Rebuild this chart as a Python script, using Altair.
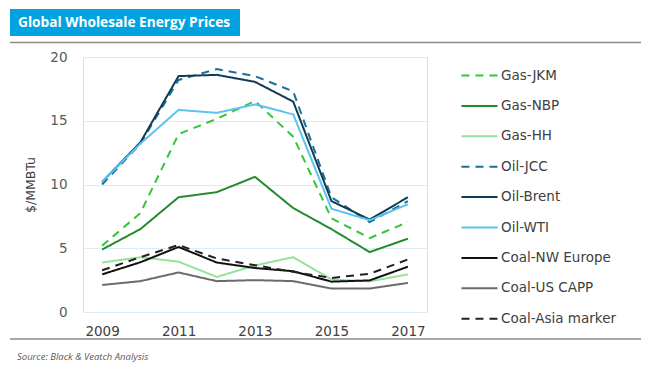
import altair as alt
import pandas as pd

years = [2009, 2010, 2011, 2012, 2013, 2014, 2015, 2016, 2017]

series_names = ["Gas-JKM", "Gas-NBP", "Gas-HH", "Oil-JCC", "Oil-Brent", "Oil-WTI",
                "Coal-NW Europe", "Coal-US CAPP", "Coal-Asia marker"]

gas_jkm = [5.2, 7.75, 13.95, 15.15, 16.55, 13.75, 7.35, 5.8, 7.05]
gas_nbp = [4.9, 6.5, 9.0, 9.4, 10.6, 8.15, 6.5, 4.7, 5.75]
gas_hh = [3.88, 4.3, 3.95, 2.75, 3.65, 4.3, 2.55, 2.4, 2.95]
oil_jcc = [10.0, 13.2, 18.2, 19.05, 18.5, 17.3, 9.0, 7.05, 8.7]
oil_brent = [10.2, 13.3, 18.5, 18.6, 18.05, 16.5, 8.7, 7.25, 9.0]
oil_wti = [10.2, 13.2, 15.85, 15.62, 16.28, 15.5, 8.1, 7.2, 8.45]
coal_nwe = [2.95, 3.9, 5.1, 3.88, 3.45, 3.2, 2.38, 2.48, 3.55]
coal_capp = [2.12, 2.42, 3.1, 2.42, 2.5, 2.42, 1.84, 1.84, 2.28]
coal_asia = [3.27, 4.3, 5.25, 4.2, 3.67, 3.15, 2.67, 3.0, 4.12]

all_values = [gas_jkm, gas_nbp, gas_hh, oil_jcc, oil_brent, oil_wti,
              coal_nwe, coal_capp, coal_asia]

colors = ["#33C63A", "#248A2E", "#93E49A", "#1C6F9A", "#0E3B55", "#5CC3EE",
          "#111111", "#6B6B6B", "#222222"]
dashes = [[8, 6], [1, 0], [1, 0], [8, 6], [1, 0], [1, 0], [1, 0], [1, 0], [8, 6]]

rows = []
for name, vals in zip(series_names, all_values):
    for yr, v in zip(years, vals):
        rows.append({"year": yr, "value": v, "series": name})
df = pd.DataFrame(rows)

FONT = "Open Sans"
WIDE = "DejaVu Sans"

legend_kw = dict(title=None, orient="none", legendX=377, legendY=-1,
                 symbolType="stroke", symbolSize=1300, symbolStrokeWidth=2,
                 rowPadding=4.4, labelFontSize=13.5, labelColor="#404040",
                 labelFont=WIDE, labelOffset=2)

lines = alt.Chart(df).mark_line(strokeWidth=2).encode(
    x=alt.X("year:Q",
            scale=alt.Scale(domain=[2008.5, 2017.5], nice=False, zero=False),
            axis=alt.Axis(values=[2009, 2011, 2013, 2015, 2017], format="d",
                          grid=False, ticks=False, domain=False,
                          labelFontSize=13.5, labelColor="#404040", labelPadding=12,
                          labelFont=WIDE, title=None)),
    y=alt.Y("value:Q",
            scale=alt.Scale(domain=[0, 20], nice=False),
            axis=alt.Axis(values=[0, 5, 10, 15, 20], grid=True, gridColor="#DCEBF7",
                          ticks=False, domain=False, labelFontSize=13.5,
                          labelColor="#595959", labelPadding=16, labelFont=WIDE,
                          title="$/MMBTu", titleFontSize=12.5, titleFontWeight="normal",
                          titleColor="#404040", titleFont=WIDE, titlePadding=12)),
    color=alt.Color("series:N", sort=series_names,
                    scale=alt.Scale(domain=series_names, range=colors),
                    legend=alt.Legend(**legend_kw)),
    strokeDash=alt.StrokeDash("series:N", sort=series_names,
                              scale=alt.Scale(domain=series_names, range=dashes),
                              legend=alt.Legend(**legend_kw)),
)

one = "datum.year == 2009 && datum.series == 'Gas-JKM'"

title_box = alt.Chart(df).mark_rect(color="#00A3E0").encode(
    x=alt.value(-73), x2=alt.value(157), y=alt.value(-48), y2=alt.value(-21)
).transform_filter(one)

title_text = alt.Chart(df).mark_text(
    text="Global Wholesale Energy Prices", color="white", fontWeight="bold",
    fontSize=13.7, font=FONT, align="left", baseline="middle"
).encode(x=alt.value(-65), y=alt.value(-34.5)).transform_filter(one)

top_rule = alt.Chart(df).mark_rule(color="#8C8C8C", strokeWidth=1.5).encode(
    x=alt.value(-73), x2=alt.value(558), y=alt.value(-14.5)
).transform_filter(one)

bottom_rule = alt.Chart(df).mark_rule(color="#8C8C8C", strokeWidth=1.5).encode(
    x=alt.value(-73), x2=alt.value(558), y=alt.value(282)
).transform_filter(one)

source_text = alt.Chart(df).mark_text(
    text="Source: Black & Veatch Analysis", color="#595959", fontStyle="italic",
    fontSize=9.5, font=FONT, align="left", baseline="bottom"
).encode(x=alt.value(-66), y=alt.value(304.5)).transform_filter(one)

chart = alt.layer(lines, title_box, title_text, top_rule, bottom_rule, source_text).properties(
    width=344, height=255,
    autosize=alt.AutoSizeParams(type="none"),
    padding={"left": 75, "top": 49, "right": 215, "bottom": 50},
).configure_view(stroke=None).configure(background="white")

chart.save("out.html", embed_options={"renderer": "svg", "actions": False})
